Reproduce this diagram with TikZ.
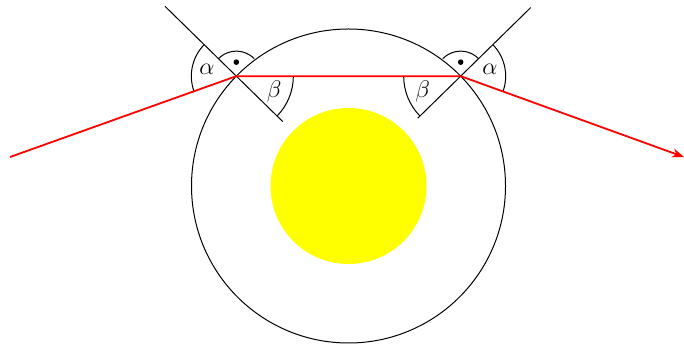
\documentclass[tikz,border=0pt]{standalone}
\usetikzlibrary{calc,arrows.meta}
\definecolor{sunyellow}{RGB}{255,255,0}
\definecolor{rayred}{RGB}{255,0,0}
\begin{document}
\begin{tikzpicture}[x=0.5pt,y=0.5pt,
  thin line/.style={line width=0.5pt,black},
  ray/.style={line width=0.9pt,rayred},
  lbl/.style={inner sep=0pt,font=\large}]
\useasboundingbox (0,0) rectangle (684,347);
\coordinate (C) at (348.5,161);
\coordinate (P) at ($(C)+(135.6:157)$);
\coordinate (Q) at ($(C)+(44.4:157)$);
\coordinate (A) at (10,190);
\coordinate (B) at (684,190);
% circles
\fill[sunyellow] (C) circle[radius=78];
\draw[thin line] (C) circle[radius=157];
% normals
\draw[thin line] ($(P)+(135.6:100)$) -- ($(P)+(135.6:-65)$);
\draw[thin line] ($(Q)+(44.4:98)$) -- ($(Q)+(44.4:-60)$);
% angle arcs left
\draw[thin line] ($(P)+(135.6:45)$) arc[start angle=135.6,end angle=199.7,radius=45];
\draw[thin line] ($(P)+(-44.4:57)$) arc[start angle=-44.4,end angle=0,radius=57];
\draw[thin line] ($(P)+(44.4:25)$) arc[start angle=44.4,end angle=135.6,radius=25];
\fill ($(P)+(90:14)$) circle[radius=2.8];
% angle arcs right
\draw[thin line] ($(Q)+(44.4:45)$) arc[start angle=44.4,end angle=-19.7,radius=45];
\draw[thin line] ($(Q)+(180:57)$) arc[start angle=180,end angle=224.4,radius=57];
\draw[thin line] ($(Q)+(44.4:25)$) arc[start angle=44.4,end angle=135.6,radius=25];
\fill ($(Q)+(90:14)$) circle[radius=2.8];
% rays
\draw[ray,line join=round] (A) -- (P) -- (Q);
\draw[ray,-{Stealth[length=6pt,width=4.5pt]}] (Q) -- (B);
% labels
\node[lbl] (a1) at ($(P)+(167.6:30)$) {$\alpha$};
\node[lbl] (b1) at ($(P)+(-22.2:41)$) {$\beta$};
\node[lbl] (b2) at ($(Q)+(202.2:41)$) {$\beta$};
\node[lbl] (a2) at ($(Q)+(12.3:30)$) {$\alpha$};
\end{tikzpicture}
\end{document}
